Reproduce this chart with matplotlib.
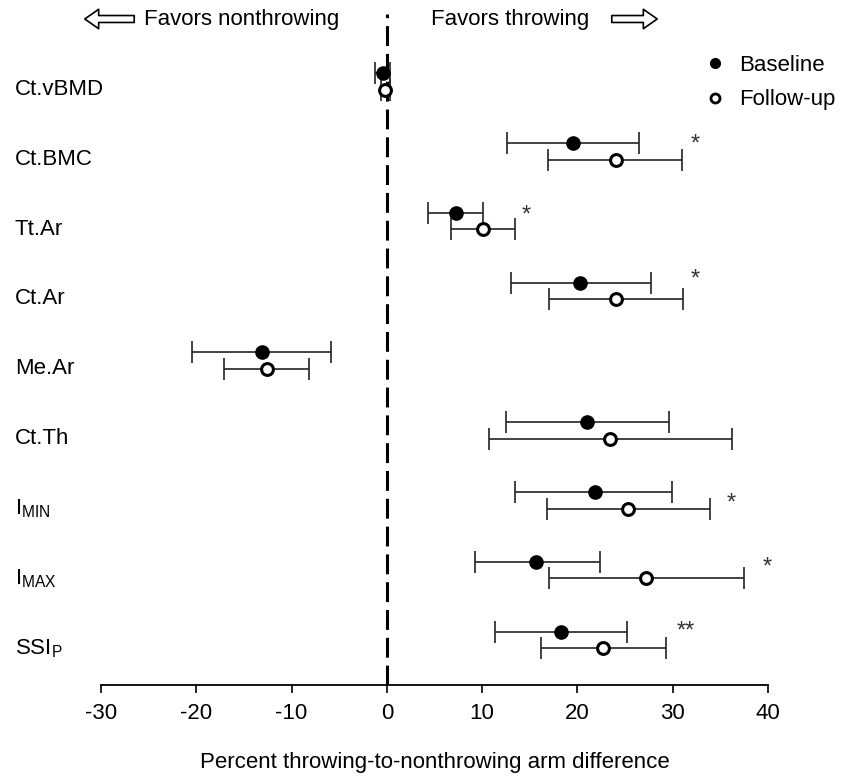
import matplotlib
matplotlib.use("Agg")
import matplotlib.pyplot as plt
from matplotlib.lines import Line2D
from matplotlib.patches import FancyArrowPatch
import numpy as np

plt.rcParams["font.family"] = ["Liberation Sans", "DejaVu Sans"]
plt.rcParams["font.size"] = 16
plt.rcParams["axes.unicode_minus"] = False

MEASURES = [
    "Ct.vBMD", "Ct.BMC", "Tt.Ar", "Ct.Ar", "Me.Ar", "Ct.Th",
    r"$\mathregular{I_{MIN}}$", r"$\mathregular{I_{MAX}}$", r"$\mathregular{SSI_P}$",
]

# mean and 95% CI (percent difference)
BASE_MEAN = [-0.45, 19.5, 7.3, 20.3, -13.1, 21.0, 21.8, 15.7, 18.3]
BASE_LO = [-1.25, 12.6, 4.3, 13.0, -20.5, 12.5, 13.5, 9.2, 11.3]
BASE_HI = [0.3, 26.5, 10.1, 27.7, -5.9, 29.6, 29.9, 22.4, 25.2]

FOLLOW_MEAN = [-0.15, 24.0, 10.1, 24.0, -12.6, 23.4, 25.3, 27.2, 22.7]
FOLLOW_LO = [-0.6, 16.9, 6.7, 17.0, -17.1, 10.7, 16.8, 17.0, 16.2]
FOLLOW_HI = [0.35, 31.0, 13.4, 31.1, -8.2, 36.2, 33.9, 37.5, 29.3]

SIG = ["", "*", "*", "*", "", "", "*", "*", "**"]

# layout of the significance marks (x in data units, y shift from row)
STAR_X = [0, 32.4, 14.6, 32.4, 0, 0, 36.1, 39.9, 31.4]
STAR_DY = [0, -0.19, -0.17, -0.26, 0, 0, -0.05, -0.13, -0.21]

W, H = 842, 776
fig = plt.figure(figsize=(W / 100, H / 100), dpi=100)

# axes box in pixels: x 101..768, y 14..685 (from top)
ax = fig.add_axes([101 / W, 1 - 685 / H, (768 - 101) / W, (685 - 14) / H])

rows = np.arange(len(MEASURES))
row_px = 69.8
ax.set_ylim((685 - 81.5) / row_px, (14 - 81.5) / row_px)
ax.set_xlim(-30, 40)

base = np.array(BASE_MEAN)
fol = np.array(FOLLOW_MEAN)
off = 0.12

ax.axvline(0, color="black", lw=2.2, dashes=(6.5, 2.6), zorder=1)

err_style = dict(fmt="none", ecolor="#222222", elinewidth=1.2, capsize=8,
                 capthick=1.2, zorder=2)
ax.errorbar(base, rows - off,
            xerr=[base - np.array(BASE_LO), np.array(BASE_HI) - base],
            **err_style)
ax.errorbar(fol, rows + off,
            xerr=[fol - np.array(FOLLOW_LO), np.array(FOLLOW_HI) - fol],
            **err_style)
ax.plot(base, rows - off, ls="none", marker="o", ms=9.5, mfc="black",
        mec="black", mew=1, zorder=3)
ax.plot(fol, rows + off, ls="none", marker="o", ms=8.5, mfc="white",
        mec="black", mew=2.2, zorder=3)

for i, s in enumerate(SIG):
    if s:
        ax.text(STAR_X[i], i + STAR_DY[i] + 0.18, s, ha="center",
                va="baseline", fontsize=17, color="#333333")

# row labels on the left
ax.set_yticks(rows + 0.08)
ax.set_yticklabels(MEASURES)
ax.tick_params(axis="y", length=0, pad=62)
for lab in ax.get_yticklabels():
    lab.set_ha("left")

ax.set_xticks(np.arange(-30, 41, 10))
ax.tick_params(axis="x", length=6, width=1.2, direction="out", pad=7,
               labelsize=16)
for side in ["left", "top", "right"]:
    ax.spines[side].set_visible(False)
ax.spines["bottom"].set_linewidth(1.3)

ax.set_xlabel("Percent throwing-to-nonthrowing arm difference", fontsize=16,
              labelpad=20)

# legend
handles = [
    Line2D([], [], ls="none", marker="o", ms=7, mfc="black", mec="black"),
    Line2D([], [], ls="none", marker="o", ms=6.5, mfc="white", mec="black",
           mew=2),
]
ax.legend(handles, ["Baseline", "Follow-up"], frameon=False, fontsize=16,
          loc="upper left", bbox_to_anchor=(704 / W, 1 - 55 / H),
          bbox_transform=fig.transFigure, borderpad=0, borderaxespad=0,
          handlelength=1, handletextpad=0.6, labelspacing=0.6)

# header with direction arrows
fig.text(144 / W, 1 - 20 / H, "Favors nonthrowing", ha="left", va="center",
         fontsize=16)
fig.text(431 / W, 1 - 20 / H, "Favors throwing", ha="left", va="center",
         fontsize=16)
arrow_style = "simple,head_length=0.5,head_width=0.7,tail_width=0.25"
for x0, x1 in [(137, 82), (609, 660)]:
    fig.patches.append(FancyArrowPatch(
        (x0 / W, 1 - 19 / H), (x1 / W, 1 - 19 / H),
        transform=fig.transFigure, arrowstyle=arrow_style,
        mutation_scale=20, fc="white", ec="black", lw=1.2))

fig.savefig("out.png", dpi=100)
